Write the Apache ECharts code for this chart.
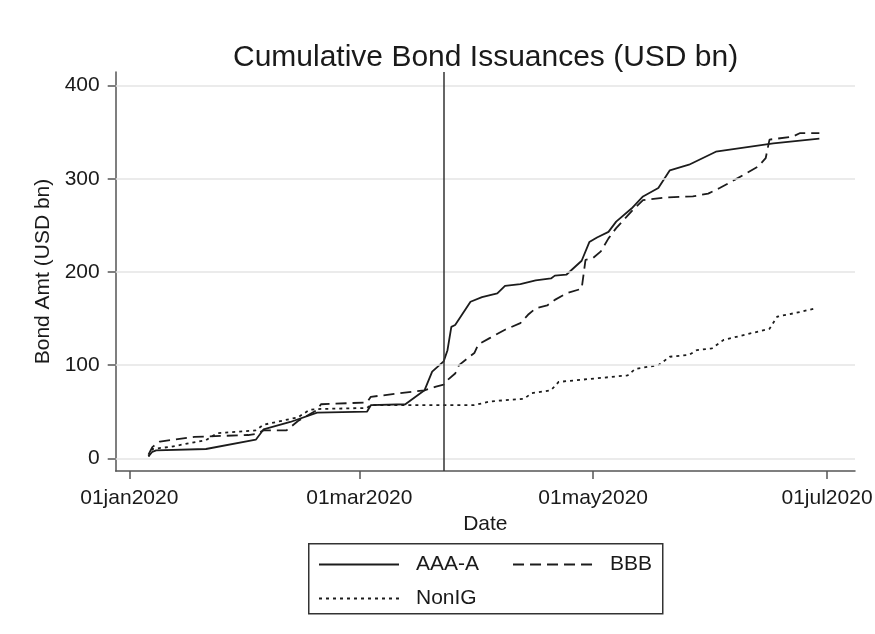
<!DOCTYPE html>
<html><head><meta charset="utf-8">
<script src="https://cdn.jsdelivr.net/npm/echarts@6/dist/echarts.min.js"></script>
<style>html,body{margin:0;padding:0;background:#fff}#c{width:875px;height:634px}</style>
</head><body><div id="c"></div>
<script>
// ---- data ----
const aaaDates = ['2020-01-06','2020-01-07','2020-01-08','2020-01-21','2020-02-03','2020-02-05','2020-02-12','2020-02-19','2020-03-03','2020-03-04','2020-03-13','2020-03-18','2020-03-20','2020-03-23','2020-03-24','2020-03-25','2020-03-26','2020-03-30','2020-04-02','2020-04-06','2020-04-08','2020-04-12','2020-04-16','2020-04-20','2020-04-21','2020-04-24','2020-04-28','2020-04-30','2020-05-02','2020-05-05','2020-05-07','2020-05-11','2020-05-14','2020-05-18','2020-05-21','2020-05-26','2020-06-02','2020-06-17','2020-06-29'];
const aaaValues = [2,7,8.5,10,20,31,39,49,50,57,58,73,93,104,116,141,143,168,173,177,185,187,191,193,196,197,212,232,237,243,254,268,281,290,309,315,329,338,343];

const bbbDates = ['2020-01-06','2020-01-07','2020-01-09','2020-01-18','2020-02-01','2020-02-03','2020-02-05','2020-02-11','2020-02-14','2020-02-19','2020-02-20','2020-03-03','2020-03-04','2020-03-18','2020-03-21','2020-03-23','2020-03-24','2020-03-26','2020-03-27','2020-03-31','2020-04-01','2020-04-04','2020-04-08','2020-04-12','2020-04-14','2020-04-16','2020-04-19','2020-04-21','2020-04-24','2020-04-28','2020-04-29','2020-05-01','2020-05-03','2020-05-05','2020-05-07','2020-05-11','2020-05-14','2020-05-20','2020-05-27','2020-05-31','2020-06-03','2020-06-07','2020-06-10','2020-06-13','2020-06-15','2020-06-16','2020-06-22','2020-06-24','2020-06-29'];
const bbbValues = [4,12,18,23,25,26,30,30,40,52,58,60,66,73,77,79,84,91,100,113,122,129,138,145,154,161,164,170,177,182,213,215,222,236,247,265,277,280,281,284,290,299,306,313,322,342,345,349,349];

const nonigDates = ['2020-01-06','2020-01-07','2020-01-12','2020-01-21','2020-01-24','2020-02-03','2020-02-05','2020-02-14','2020-02-17','2020-02-20','2020-03-03','2020-03-04','2020-03-31','2020-04-04','2020-04-13','2020-04-15','2020-04-20','2020-04-22','2020-05-10','2020-05-12','2020-05-18','2020-05-21','2020-05-26','2020-05-28','2020-06-01','2020-06-04','2020-06-16','2020-06-18','2020-06-24','2020-06-28'];
const nonigValues = [2,10,12.5,19.6,27,30,36,44,52,53,54,57,57,61,64,70,73,82,89,96,100,109,111,116,118,127,139,152,157,161];

const seriesNames = ['AAA-A','BBB','NonIG'];
const yTicks = [0,100,200,300,400];
const xTickDates = ['2020-01-01','2020-03-01','2020-05-01','2020-07-01'];
const xTickLabels = ['01jan2020','01mar2020','01may2020','01jul2020'];
const eventDate = '2020-03-23';

// ---- helpers ----
function dayIndex(s){const p=s.split('-').map(Number);return (Date.UTC(p[0],p[1]-1,p[2])-Date.UTC(2020,0,1))/86400000;}
function pairs(dates, vals){return dates.map((d,i)=>[dayIndex(d), vals[i]]);}
const xTickDays = xTickDates.map(dayIndex);
const FONT = '"Liberation Sans", Arial, sans-serif';
const TXT = '#1a1a1a';
const LINE = '#1c1c1c';
const legendBase = {left:318, orient:'horizontal', padding:0,
  itemWidth:80, itemHeight:14, itemGap:33, selectedMode:false,
  itemStyle:{color:'rgba(0,0,0,0)', borderWidth:0, opacity:0},
  textStyle:{fontFamily:FONT, fontSize:21, color:TXT, padding:[0,0,0,12]}};

const chart = echarts.init(document.getElementById('c'), null, {renderer:'canvas'});
chart.setOption({
  animation:false,
  backgroundColor:'#ffffff',
  title:{text:'Cumulative Bond Issuances (USD bn)', left:228, top:38,
    textStyle:{fontFamily:FONT, fontSize:30, fontWeight:'normal', color:TXT}},
  grid:{left:115.7, right:20, top:72, bottom:163, containLabel:false, outerBoundsMode:'none'},
  xAxis:{type:'value', min:-3.55, max:189.3,
    name:'Date', nameLocation:'middle', nameGap:37,
    nameTextStyle:{fontFamily:FONT, fontSize:21, color:TXT},
    axisLine:{show:true, onZero:false, lineStyle:{color:'#555', width:1.5}},
    axisTick:{show:true, length:8, customValues:xTickDays, lineStyle:{color:'#555', width:1.5}},
    axisLabel:{customValues:xTickDays, margin:17, fontFamily:FONT, fontSize:21, color:TXT,
      formatter:v=>{const i=xTickDays.indexOf(Math.round(v));return i>=0?xTickLabels[i]:'';}},
    splitLine:{show:false}},
  yAxis:{type:'value', min:-13.6, max:414.5,
    name:'Bond Amt (USD bn)', nameLocation:'middle', nameGap:57,
    nameTextStyle:{fontFamily:FONT, fontSize:21, color:TXT},
    axisLine:{show:true, onZero:false, lineStyle:{color:'#555', width:1.5}},
    axisTick:{show:true, length:8, customValues:yTicks, lineStyle:{color:'#555', width:1.5}},
    axisLabel:{customValues:yTicks, margin:16, fontFamily:FONT, fontSize:21, color:TXT},
    splitLine:{show:false}},
  legend:[
    Object.assign({}, legendBase, {data:['AAA-A','BBB'], top:554}),
    Object.assign({}, legendBase, {data:['NonIG'], top:588})
  ],
  graphic:[{type:'rect', left:308, top:543, z:0, silent:true,
    shape:{width:354, height:70},
    style:{fill:'rgba(0,0,0,0)', stroke:'#333', lineWidth:1.5}}],
  series:[
    {name:'_grid', type:'line', data:[], silent:true, z:1,
      markLine:{silent:true, symbol:'none', label:{show:false},
        lineStyle:{color:'#e4e4e4', width:1.5, type:'solid'},
        data:yTicks.map(v=>({yAxis:v}))}},
    {name:seriesNames[0], type:'line', data:pairs(aaaDates,aaaValues), symbol:'none', z:3,
      color:LINE, lineStyle:{color:LINE, width:1.8, type:'solid'},
      markLine:{silent:true, symbol:'none', label:{show:false},
        lineStyle:{color:'#333', width:1.5, type:'solid'},
        data:[{xAxis:dayIndex(eventDate)}]}},
    {name:seriesNames[1], type:'line', data:pairs(bbbDates,bbbValues), symbol:'none', z:3,
      color:LINE, lineStyle:{color:LINE, width:1.8, type:[11,6]}},
    {name:seriesNames[2], type:'line', data:pairs(nonigDates,nonigValues), symbol:'none', z:3,
      color:LINE, lineStyle:{color:LINE, width:1.8, type:[3,4]}}
  ]
});
</script></body></html>
